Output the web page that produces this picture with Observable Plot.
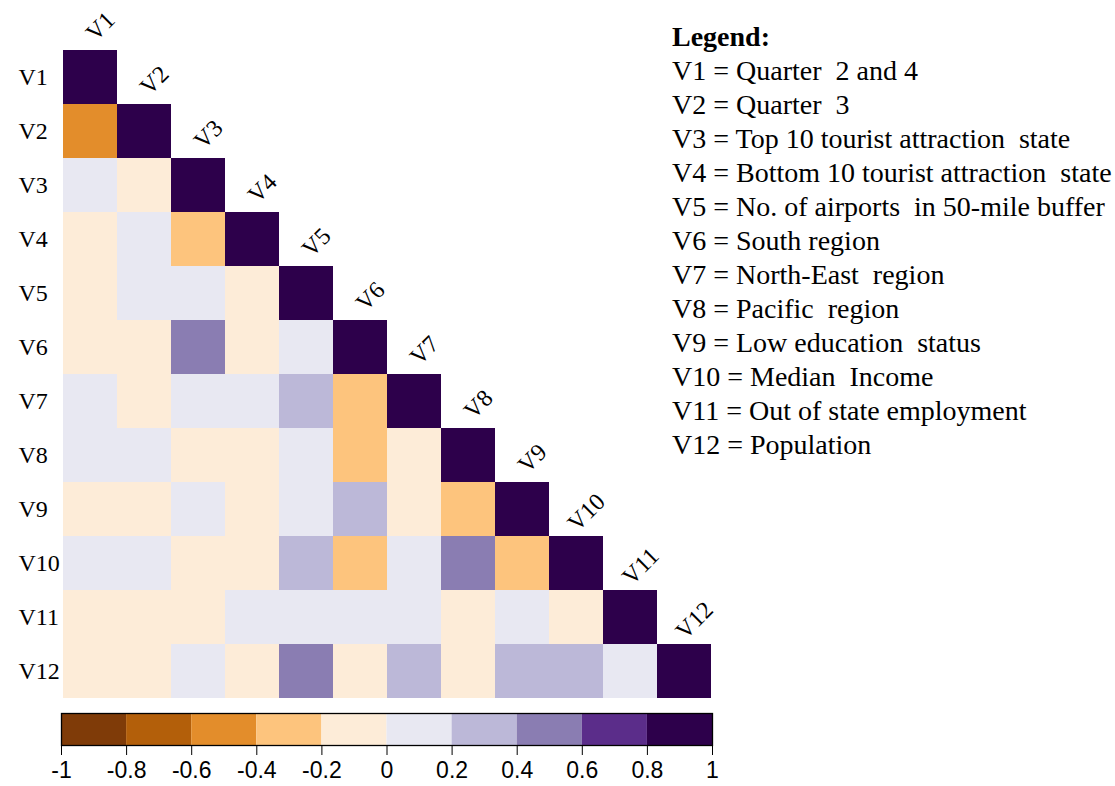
<!DOCTYPE html>
<html>
<head>
<meta charset="utf-8">
<script src="https://cdn.jsdelivr.net/npm/d3@7"></script>
<script src="https://cdn.jsdelivr.net/npm/@observablehq/plot@0.6"></script>
<style>
  html, body { margin: 0; padding: 0; background: #fff; }
  #wrap { position: relative; width: 1115px; height: 786px; overflow: hidden; }
  #wrap > * { position: absolute; }
  #legend { left: 672px; top: 20px; font-family: "Liberation Serif", "Times New Roman", serif; font-size: 28px; line-height: 34px; color: #000; white-space: nowrap; }
  #legend .head { font-weight: bold; }
</style>
</head>
<body>
<div id="wrap"></div>
<script>
// Variables (rows/columns)
const vars = ["V1","V2","V3","V4","V5","V6","V7","V8","V9","V10","V11","V12"];
const varNames = [
  "Quarter  2 and 4", "Quarter  3", "Top 10 tourist attraction  state",
  "Bottom 10 tourist attraction  state", "No. of airports  in 50-mile buffer",
  "South region", "North-East  region", "Pacific  region", "Low education  status",
  "Median  Income", "Out of state employment", "Population"
];
// Lower-triangle correlation estimates, row i lists columns V1..V(i) (diagonal = 1)
const corrRows = [
  [1],
  [-0.5, 1],
  [0.1, -0.1, 1],
  [-0.1, 0.1, -0.3, 1],
  [-0.1, 0.1, 0.1, -0.1, 1],
  [-0.1, -0.1, 0.5, -0.1, 0.1, 1],
  [0.1, -0.1, 0.1, 0.1, 0.3, -0.3, 1],
  [0.1, 0.1, -0.1, -0.1, 0.1, -0.3, -0.1, 1],
  [-0.1, -0.1, 0.1, -0.1, 0.1, 0.3, -0.1, -0.3, 1],
  [0.1, 0.1, -0.1, -0.1, 0.3, -0.3, 0.1, 0.5, -0.3, 1],
  [-0.1, -0.1, -0.1, 0.1, 0.1, 0.1, 0.1, -0.1, 0.1, -0.1, 1],
  [-0.1, -0.1, 0.1, -0.1, 0.5, -0.1, 0.3, -0.1, 0.3, 0.3, 0.1, 1]
];
// Colour bins
const thresholds = [-0.8, -0.6, -0.4, -0.2, 0, 0.2, 0.4, 0.6, 0.8];
const binColors = ["#7f3b08","#b35f0a","#e38d2b","#fdc47d","#fdecd8","#e8e8f2","#bcb8d8","#8a7db2","#5b2d8a","#2d004b"];
const barTicks = [-1, -0.8, -0.6, -0.4, -0.2, 0, 0.2, 0.4, 0.6, 0.8, 1];

const cells = corrRows.flatMap((row, i) => row.map((v, j) => ({row: vars[i], col: vars[j], value: v})));
const colorOpts = {type: "threshold", domain: thresholds, range: binColors};
const serif = "Liberation Serif, Times New Roman, serif";

const heat = Plot.plot({
  width: 1115, height: 786,
  marginLeft: 61, marginRight: 403, marginTop: 45, marginBottom: 83,
  x: {domain: vars, padding: 0, axis: null},
  y: {domain: vars, padding: 0, axis: null},
  color: colorOpts,
  style: {background: "transparent", overflow: "visible"},
  marks: [
    Plot.cell(cells, {x: "col", y: "row", fill: "value", inset: 0}),
    Plot.axisY({label: null, tickSize: 0, tickPadding: 43, textAnchor: "start", fontSize: 24,
      fontFamily: serif, fill: "#000"}),
    Plot.text(vars, {x: d => d, y: d => d, dx: 10, dy: -51, rotate: -45, fontSize: 24,
      fontFamily: serif, fill: "#000", textAnchor: "middle"})
  ]
});

// Colour bar
const bins = binColors.map((c, k) => ({x1: barTicks[k], x2: barTicks[k + 1], c}));
const bar = Plot.plot({
  width: 1115, height: 786,
  marginLeft: 61, marginRight: 403, marginTop: 713, marginBottom: 41,
  x: {domain: [-1, 1]},
  y: {domain: [0, 1], axis: null},
  style: {background: "transparent"},
  marks: [
    Plot.rect(bins, {x1: "x1", x2: "x2", y1: 0, y2: 1, fill: "c"}),
    Plot.frame({stroke: "#000", strokeWidth: 1.3}),
    Plot.axisX({label: null, ticks: barTicks, tickFormat: d => String(d), tickSize: 10, tickPadding: 6,
      fontSize: 23, fontFamily: "Liberation Sans Narrow, Arial Narrow, Liberation Sans, Arial, sans-serif",
      fill: "#000", stroke: "#000"})
  ]
});

const wrap = document.getElementById("wrap");
heat.style.left = "0px"; heat.style.top = "0px";
bar.style.left = "0px"; bar.style.top = "0px";
wrap.appendChild(heat);
wrap.appendChild(bar);

const leg = document.createElement("div");
leg.id = "legend";
leg.innerHTML = '<div class="head">Legend:</div>' +
  vars.map((v, i) => `<div>${v} = ${varNames[i].replace(/  /g, "&nbsp; ")}</div>`).join("");
wrap.appendChild(leg);
</script>
</body>
</html>
